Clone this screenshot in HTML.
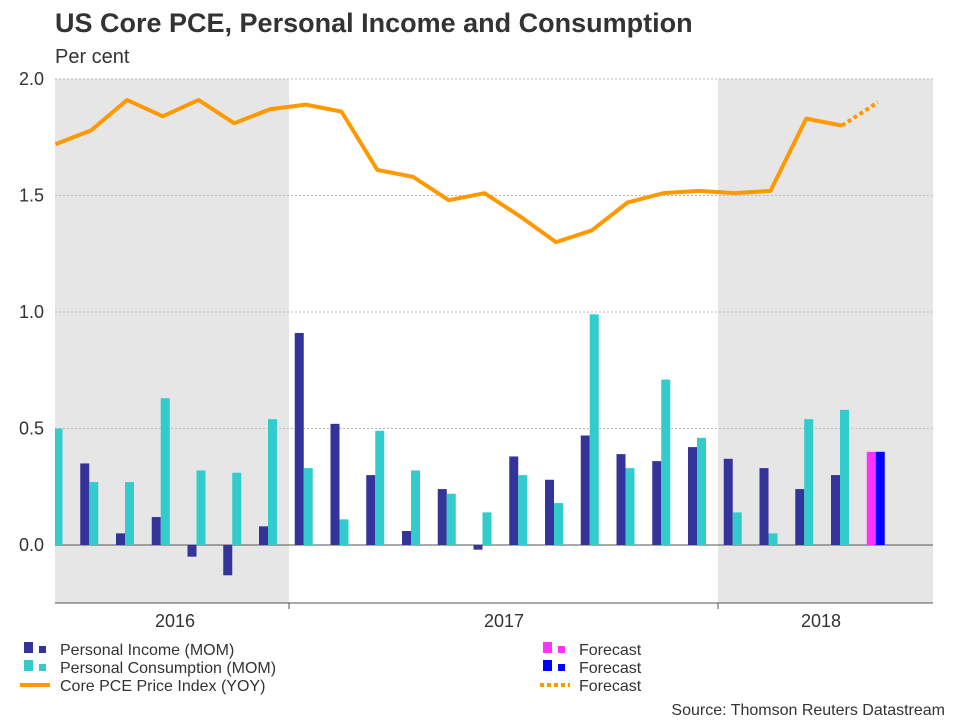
<!DOCTYPE html>
<html><head><meta charset="utf-8"><style>
body{margin:0;background:#fff;font-family:"Liberation Sans",sans-serif;}
svg text{font-family:"Liberation Sans",sans-serif;}
</style></head><body>
<svg id="c" width="960" height="720">
<defs><clipPath id="pc"><rect x="55" y="70" width="878" height="540"/></clipPath></defs>
<text x="55" y="32" font-size="27" font-weight="bold" fill="#333">US Core PCE, Personal Income and Consumption</text>
<text x="55" y="63" font-size="20" fill="#333">Per cent</text>
<g id="shade"></g><g id="grid"></g><g id="bars" clip-path="url(#pc)"></g><g id="lines" clip-path="url(#pc)"></g><g id="axis"></g>
<g font-size="16" fill="#333">
<rect x="24" y="642" width="9" height="11" fill="#333399"/><rect x="39" y="646" width="7" height="7" fill="#333399"/><text x="60" y="655">Personal Income (MOM)</text>
<rect x="24" y="660" width="9" height="11" fill="#33cccc"/><rect x="39" y="664" width="7" height="7" fill="#33cccc"/><text x="60" y="673">Personal Consumption (MOM)</text>
<line x1="20" y1="685" x2="50" y2="685" stroke="#ff9900" stroke-width="4"/><text x="60" y="691">Core PCE Price Index (YOY)</text>
<rect x="543" y="642" width="9" height="11" fill="#ff33ff"/><rect x="558" y="646" width="7" height="7" fill="#ff33ff"/><text x="579" y="655">Forecast</text>
<rect x="543" y="660" width="9" height="11" fill="#0000ff"/><rect x="558" y="664" width="7" height="7" fill="#0000ff"/><text x="579" y="673">Forecast</text>
<line x1="540" y1="685" x2="570" y2="685" stroke="#ff9900" stroke-width="4" stroke-dasharray="4,3"/><text x="579" y="691">Forecast</text>
</g>
<text x="945" y="715" font-size="16" fill="#333" text-anchor="end">Source: Thomson Reuters Datastream</text>
</svg>
<script>
const months=["Jun16","Jul16","Aug16","Sep16","Oct16","Nov16","Dec16","Jan17","Feb17","Mar17","Apr17","May17","Jun17","Jul17","Aug17","Sep17","Oct17","Nov17","Dec17","Jan18","Feb18","Mar18","Apr18"];
const income=[0.40,0.35,0.05,0.12,-0.05,-0.13,0.08,0.91,0.52,0.30,0.06,0.24,-0.02,0.38,0.28,0.47,0.39,0.36,0.42,0.37,0.33,0.24,0.30];
const consumption=[0.50,0.27,0.27,0.63,0.32,0.31,0.54,0.33,0.11,0.49,0.32,0.22,0.14,0.30,0.18,0.99,0.33,0.71,0.46,0.14,0.05,0.54,0.58];
const corePce=[1.72,1.78,1.91,1.84,1.91,1.81,1.87,1.89,1.86,1.61,1.58,1.48,1.51,1.41,1.30,1.35,1.47,1.51,1.52,1.51,1.52,1.83,1.80];
const forecastIncomeA=0.40, forecastIncomeB=0.40, forecastPce=1.90;
const yTicks=[0.0,0.5,1.0,1.5,2.0];
const years=["2016","2017","2018"];
const NS="http://www.w3.org/2000/svg";
const slot=35.75, x0=55.5;
const X=i=>x0+i*slot;
const Y=v=>545-v*233;
function mk(p,t,a){const e=document.createElementNS(NS,t);for(const k in a)e.setAttribute(k,a[k]);document.getElementById(p).appendChild(e);return e;}
let s=mk("shade","rect",{x:55,y:79,width:234,height:524,fill:"#e6e6e6"});


s=mk("shade","rect",{x:718,y:79,width:215,height:524,fill:"#e6e6e6"});


yTicks.forEach(v=>{
 const l=mk("grid","line",{x1:55,x2:933,y1:Y(v),y2:Y(v),stroke:v===0?"#555":"#bbb","stroke-width":1,"stroke-dasharray":v===0?"":"2,2"});
 
 
 const t=mk("axis","text",{x:44,y:Y(v)+6,"font-size":18,fill:"#333","text-anchor":"end"});t.textContent=v.toFixed(1);
 
 
});
function bar(x,v,c,n){const y=Math.min(Y(v),Y(0));const b=mk("bars","rect",{x:x,y:y,width:9,height:Math.abs(Y(v)-Y(0)),fill:c});
 
 }
months.forEach((m,i)=>{bar(X(i)-11,income[i],"#333399","income-bar");bar(X(i)-2,consumption[i],"#33cccc","consumption-bar");});
const fi=months.length;
bar(X(fi)-11,forecastIncomeA,"#ff33ff","forecast-bar-a");
bar(X(fi)-2,forecastIncomeB,"#0000ff","forecast-bar-b");
const pl=mk("lines","polyline",{points:corePce.map((v,i)=>X(i)+","+Y(v)).join(" "),fill:"none",stroke:"#ff9900","stroke-width":4,"stroke-linejoin":"round"});


const fl=mk("lines","line",{x1:X(fi-1),y1:Y(corePce[fi-1]),x2:X(fi),y2:Y(forecastPce),stroke:"#ff9900","stroke-width":4,"stroke-dasharray":"4,3"});


const ax=mk("axis","line",{x1:55,x2:933,y1:603,y2:603,stroke:"#555"});


[289,718].forEach(x=>{const t=mk("axis","line",{x1:x,x2:x,y1:603,y2:609,stroke:"#555"});
 
 });
const yc=[175,504,821];
years.forEach((y,i)=>{const t=mk("axis","text",{x:yc[i],y:627,"font-size":18,fill:"#333","text-anchor":"middle"});t.textContent=y;
 
 });
</script>
</body></html>
